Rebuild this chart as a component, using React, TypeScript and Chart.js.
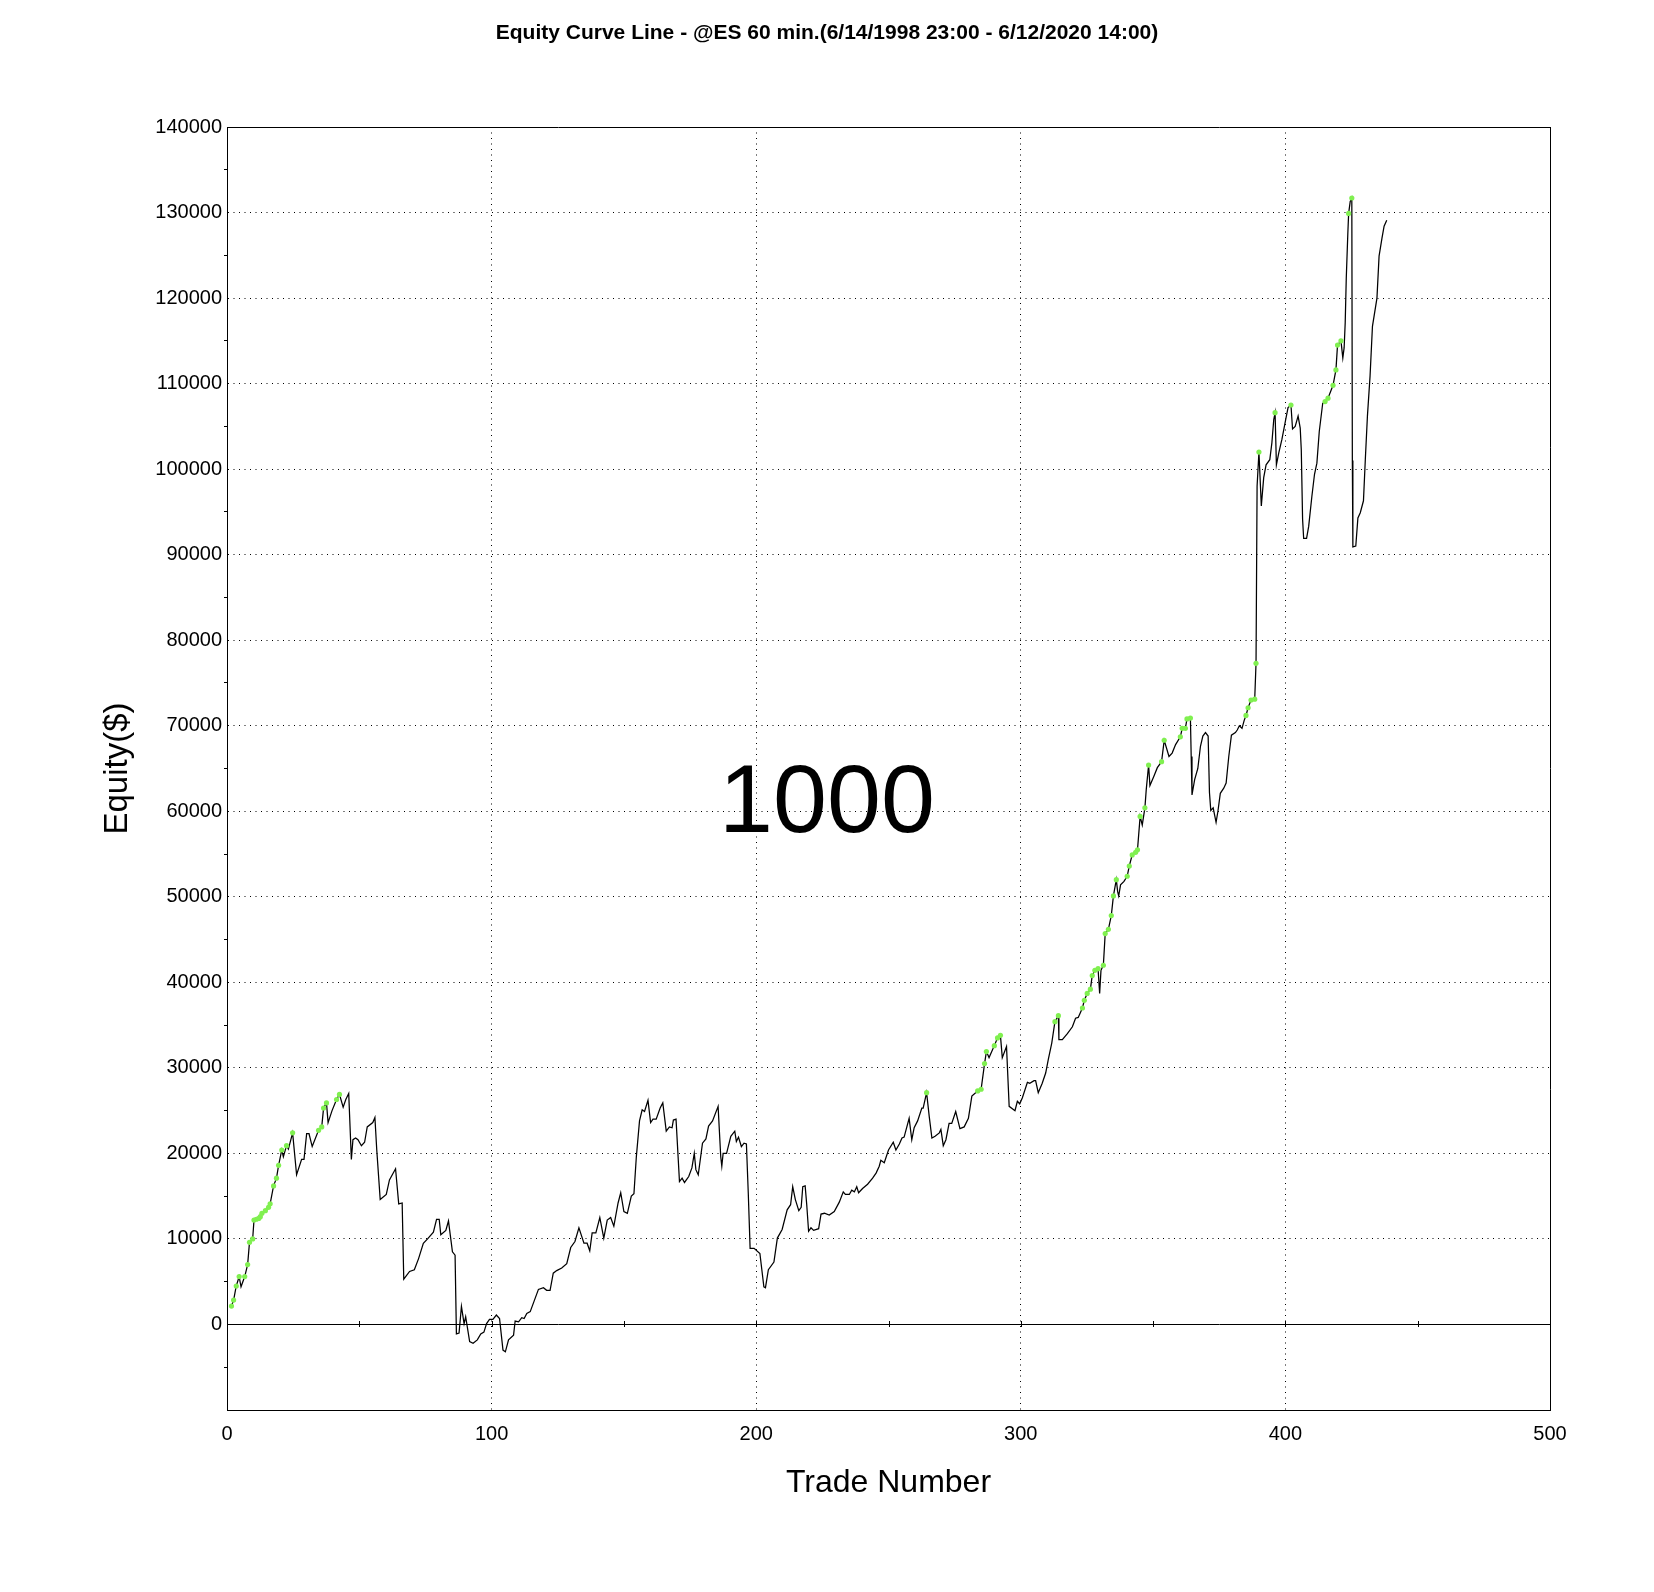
import { useEffect, useRef } from "react";
import { Chart, registerables } from "chart.js";

Chart.register(...registerables);

const FONT = "'Liberation Sans', Arial, Helvetica, sans-serif";

const titleText = "Equity Curve Line - @ES 60 min.(6/14/1998 23:00 - 6/12/2020 14:00)";
const xAxisTitle = "Trade Number";
const yAxisTitle = "Equity($)";
const watermarkText = "1000";

// equity curve vertices (trade number, equity $)
const tradeNumbers = [
  1.7, 2.5, 3.5, 4.6, 5.3, 6.7, 7.8, 8.5, 9.7, 10.2, 11.1, 12.0, 12.6, 13.2, 14.5, 15.7, 16.3, 17.6, 18.7, 19.5,
  20.7, 21.3, 22.5, 23.2, 24.8, 26.3, 28.2, 29.1, 30.1, 31.0, 32.2, 34.6, 35.8, 36.5, 37.6, 38.2, 39.7, 41.4, 42.5, 43.9,
  44.9, 46.0, 47.0, 47.6, 48.6, 49.5, 50.8, 52.0, 53.0, 55.1, 55.9, 56.6, 57.9, 60.2, 61.4, 63.7, 64.9, 66.2, 66.8, 69.0,
  70.8, 72.4, 74.2, 75.8, 78.0, 79.2, 80.2, 80.8, 82.7, 83.7, 85.2, 86.2, 86.7, 87.7, 88.6, 89.6, 90.2, 91.7, 93.0, 94.6,
  95.9, 97.1, 98.1, 99.2, 100.5, 101.8, 103.0, 104.3, 105.2, 106.4, 108.3, 108.9, 110.2, 111.4, 112.3, 113.3, 114.6, 117.7, 119.6, 120.8,
  122.1, 123.3, 124.6, 126.5, 128.4, 129.9, 131.5, 133.0, 134.9, 136.1, 137.1, 138.0, 139.4, 140.9, 142.4, 143.7, 145.0, 146.2, 147.8, 148.8,
  150.0, 151.3, 152.8, 153.8, 154.7, 155.9, 156.9, 157.8, 159.1, 160.1, 161.0, 162.2, 163.7, 164.7, 166.0, 167.2, 168.2, 168.7, 169.7, 171.0,
  172.0, 172.9, 174.5, 175.7, 176.6, 177.2, 178.1, 179.7, 181.0, 182.0, 183.5, 185.6, 186.6, 187.0, 187.5, 188.8, 190.4, 191.9, 192.5, 193.3,
  194.4, 195.4, 196.3, 197.0, 197.7, 199.2, 201.4, 202.9, 203.5, 204.6, 206.7, 208.0, 209.8, 211.7, 213.0, 213.8, 214.8, 216.1, 217.0, 217.6,
  218.5, 219.1, 219.8, 220.7, 221.7, 223.6, 224.5, 225.8, 227.6, 229.5, 231.4, 232.9, 233.7, 235.2, 236.1, 237.1, 238.0, 238.7, 240.2, 242.1,
  244.0, 245.3, 246.5, 247.1, 248.4, 250.0, 251.8, 252.8, 254.1, 255.1, 255.9, 257.8, 258.8, 259.7, 261.0, 262.6, 263.1, 264.4, 265.4, 266.4,
  267.6, 269.2, 269.8, 270.7, 271.7, 272.9, 273.9, 275.4, 277.0, 278.6, 280.2, 281.5, 283.7, 285.0, 286.3, 287.0, 288.0, 290.0, 291.2, 292.3,
  293.0, 294.6, 295.6, 297.8, 298.7, 299.6, 300.6, 302.5, 303.4, 305.0, 305.6, 306.6, 308.1, 309.4, 310.4, 311.7, 312.9, 314.2, 314.4, 315.7,
  317.6, 319.5, 320.7, 321.7, 323.3, 324.0, 325.1, 326.3, 327.0, 328.0, 329.2, 329.8, 330.3, 331.2, 331.9, 333.1, 334.2, 335.0, 336.1, 336.6,
  337.0, 337.7, 339.0, 340.2, 341.0, 342.1, 343.4, 344.1, 345.1, 345.9, 346.9, 347.4, 348.3, 348.8, 350.3, 351.6, 353.2, 354.2, 356.0, 357.2,
  358.5, 360.3, 361.0, 362.2, 362.8, 364.1, 364.4, 364.7, 365.7, 366.9, 367.9, 368.8, 369.8, 370.8, 371.3, 371.8, 372.7, 373.8, 374.5, 375.4,
  376.7, 377.6, 378.6, 379.6, 381.1, 381.8, 382.6, 383.6, 384.4, 385.1, 385.9, 387.0, 388.4, 388.9, 389.3, 390.0, 390.9, 391.8, 392.7, 394.1,
  394.9, 395.6, 396.1, 396.6, 397.5, 398.7, 400.0, 401.0, 402.1, 402.7, 403.7, 404.8, 405.6, 406.0, 406.5, 406.9, 408.0, 408.8, 410.0, 411.0,
  411.9, 412.8, 414.1, 415.0, 416.1, 418.0, 419.1, 419.7, 421.0, 421.7, 422.2, 422.6, 423.0, 423.6, 423.9, 424.5, 425.1, 425.3, 425.5, 426.6,
  427.4, 428.3, 429.5, 430.2, 431.0, 432.0, 432.9, 434.6, 435.4, 436.5, 437.3, 438.3,
];

const equity = [
  2150, 2850, 4500, 5600, 4400, 5600, 7000, 9600, 10000, 12200, 12300, 12400, 12600, 13000, 13300, 13700, 14100, 16200, 17100, 18600,
  20400, 19600, 20900, 20500, 22400, 17500, 19300, 19300, 22300, 22300, 20800, 22700, 23100, 25300, 25900, 23600, 25000, 26300, 26900, 25400,
  26300, 27000, 19300, 21600, 21800, 21600, 20900, 21300, 23100, 23600, 24200, 20400, 14600, 15200, 16900, 18200, 14100, 14200, 5300, 6200,
  6400, 7700, 9500, 10000, 10800, 12300, 12300, 10500, 11000, 12100, 8500, 8100, -1100, -1000, 2100, 100, 900, -2000, -2200, -1800,
  -1100, -900, 100, 600, 600, 1100, 700, -3000, -3200, -1800, -1250, 400, 300, 800, 700, 1300, 1500, 4100, 4300, 4000,
  4000, 6000, 6300, 6600, 7100, 9000, 9700, 11300, 9500, 9500, 8600, 10700, 10700, 12500, 10100, 12200, 12500, 11500, 14200, 15400,
  13200, 13000, 15000, 15300, 19600, 23800, 25100, 24900, 26200, 23600, 24000, 24000, 25300, 25900, 22600, 23100, 23000, 23900, 24000, 16700,
  17100, 16600, 17300, 18300, 20000, 18100, 17500, 21200, 21700, 23200, 23800, 25500, 19600, 18500, 20000, 20000, 22000, 22600, 21400, 21900,
  20800, 21200, 21100, 15400, 8900, 8900, 8300, 4400, 4300, 6400, 7300, 10100, 11100, 13400, 14000, 16100, 14600, 13300, 13700, 16100,
  16200, 14000, 10900, 11300, 11000, 11200, 12900, 13000, 12800, 13200, 14300, 15500, 15200, 15200, 15700, 15500, 16100, 15400, 15900, 16400,
  17100, 17700, 18500, 19200, 18900, 20400, 21300, 20400, 21100, 21800, 21900, 24100, 21600, 23000, 23800, 25300, 25300, 27100, 24300, 21800,
  22000, 22400, 22800, 20900, 21600, 23500, 23500, 24900, 22900, 23100, 24100, 26700, 27300, 27500, 30500, 31900, 31200, 32600, 33500, 33800,
  31200, 32500, 25500, 25000, 26100, 25800, 26500, 28300, 28200, 28500, 28500, 27100, 28200, 29400, 31000, 32900, 35400, 36100, 33300, 33300,
  34000, 34800, 35800, 35900, 37000, 37900, 38700, 39200, 40800, 41400, 41600, 38700, 41400, 42000, 45700, 46200, 47800, 50100, 52000, 50600,
  50100, 51400, 51800, 52400, 53600, 54900, 55200, 55500, 59400, 58400, 60400, 62500, 65400, 63000, 64100, 65100, 65800, 68300, 66400, 66800,
  67800, 68700, 69700, 69700, 70800, 70900, 66400, 61900, 63700, 65000, 67600, 68800, 69200, 68800, 62200, 60100, 60400, 58700, 60000, 62100,
  62700, 63300, 66400, 68900, 69200, 69500, 70000, 69700, 70600, 71200, 72100, 73000, 73100, 77300, 98000, 102000, 95700, 99000, 100500, 101100,
  103100, 105800, 106600, 100500, 101900, 103500, 105600, 107200, 107500, 104700, 105000, 106200, 104800, 102300, 94100, 91900, 91900, 93300, 96800, 99400,
  100700, 104400, 107700, 107900, 108300, 109800, 111600, 114500, 115000, 113000, 114200, 117100, 122300, 127600, 129900, 131300, 131700, 101000, 90900, 91000,
  94300, 94900, 96300, 101100, 106200, 110900, 116700, 120000, 124900, 127000, 128400, 129100,
];

// new equity highs (green markers)
const highTradeNumbers = [
  1.7, 2.5, 3.5, 4.6, 6.7, 7.8, 8.5, 9.7, 10.2, 11.1, 12.0, 12.6, 13.2, 14.5, 15.7, 16.3, 17.6, 18.7, 19.5, 20.7,
  22.5, 24.8, 34.6, 35.8, 36.5, 37.6, 41.4, 42.5, 264.4, 283.7, 285.0, 286.3, 287.0, 290.0, 291.2, 292.3, 312.9, 314.2,
  323.3, 324.0, 325.1, 326.3, 327.0, 328.0, 329.2, 331.2, 331.9, 333.1, 334.2, 335.0, 336.1, 340.2, 341.0, 342.1, 343.4,
  344.1, 345.1, 346.9, 348.3, 353.2, 354.2, 360.3, 361.0, 362.2, 362.8, 364.1, 385.1, 385.9, 387.0, 388.4, 388.9, 390.0,
  396.1, 402.1, 415.0, 416.1, 418.0, 419.1, 419.7, 421.0, 423.9, 425.1,
];

const highEquity = [
  2150, 2850, 4500, 5600, 5600, 7000, 9600, 10000, 12200, 12300, 12400, 12600, 13000, 13300, 13700, 14100, 16200, 17100, 18600, 20400,
  20900, 22400, 22700, 23100, 25300, 25900, 26300, 26900, 27100, 27300, 27500, 30500, 31900, 32600, 33500, 33800, 35400, 36100,
  37000, 37900, 38700, 39200, 40800, 41400, 41600, 42000, 45700, 46200, 47800, 50100, 52000, 52400, 53600, 54900, 55200,
  55500, 59400, 60400, 65400, 65800, 68300, 68700, 69700, 69700, 70800, 70900, 71200, 72100, 73000, 73100, 77300, 102000,
  106600, 107500, 107900, 108300, 109800, 111600, 114500, 115000, 129900, 131700,
];

// small marks on the zero line
const zeroLineTicks = [50, 100, 150, 200, 250, 300, 350, 400, 450];

const isEdgeY = (v: number) => v === 0 || v === -10000 || v === 140000;
const isEdgeX = (v: number) => v === 0 || v === 500;

const decorations = {
  id: "decorations",
  afterDatasetsDraw(chart: any) {
    const { ctx, chartArea, scales } = chart;
    const y0 = Math.round(scales.y.getPixelForValue(0));
    ctx.save();
    ctx.strokeStyle = "#000";
    ctx.lineWidth = 1;
    ctx.beginPath();
    zeroLineTicks.forEach((t) => {
      const px = Math.round(scales.x.getPixelForValue(t)) + 0.5;
      ctx.moveTo(px, y0 - 3);
      ctx.lineTo(px, y0 + 3);
    });
    ctx.stroke();
    ctx.font = `97px ${FONT}`;
    ctx.fillStyle = "#000";
    ctx.textAlign = "center";
    ctx.textBaseline = "middle";
    ctx.fillText(watermarkText, chart.width / 2, chartArea.top + (chartArea.bottom - chartArea.top) * 0.529);
    ctx.restore();
  },
};

export default function App() {
  const canvasRef = useRef<HTMLCanvasElement>(null);
  const chartRef = useRef<Chart | null>(null);

  useEffect(() => {
    if (!canvasRef.current) return;
    chartRef.current?.destroy();

    chartRef.current = new Chart(canvasRef.current, {
      type: "scatter",
      data: {
        datasets: [
          {
            label: "New high",
            data: highTradeNumbers.map((t, i) => ({ x: t, y: highEquity[i] })),
            backgroundColor: "#80f050",
            borderWidth: 0,
            pointRadius: 2.6,
            order: 1,
          },
          {
            label: "Equity",
            data: tradeNumbers.map((t, i) => ({ x: t, y: equity[i] })),
            showLine: true,
            borderColor: "#000",
            borderWidth: 1.25,
            pointRadius: 0,
            tension: 0,
            order: 2,
          },
        ],
      },
      options: {
        animation: false,
        responsive: true,
        maintainAspectRatio: false,
        events: [],
        layout: { padding: { left: 104, right: 104, top: 0, bottom: 0 } },
        plugins: {
          legend: { display: false },
          tooltip: { enabled: false },
          title: {
            display: true,
            text: titleText,
            color: "#000",
            font: { family: FONT, size: 21, weight: "bold" },
            padding: { top: 20.4, bottom: 81.4 },
          },
        },
        scales: {
          x: {
            type: "linear",
            min: 0,
            max: 500,
            afterFit: (s: any) => { s.height = 182; },
            ticks: { stepSize: 100, color: "#000", font: { family: FONT, size: 20 }, padding: 12, maxRotation: 0 },
            grid: { drawTicks: false, color: "#000", lineWidth: 1 },
            border: {
              display: true,
              color: "#000",
              width: 1,
              dash: (c: any) => (c.tick && !isEdgeX(c.tick.value) ? [1, 4.5] : []),
            },
            title: {
              display: true,
              text: xAxisTitle,
              color: "#000",
              font: { family: FONT, size: 32 },
              padding: { top: 0, bottom: 90 },
            },
          },
          y: {
            type: "linear",
            min: -10000,
            max: 140000,
            afterFit: (s: any) => { s.width = 123; },
            ticks: {
              stepSize: 5000,
              maxTicksLimit: 100,
              autoSkip: false,
              color: "#000",
              font: { family: FONT, size: 20 },
              padding: 2,
              callback: (v: any) => (Number(v) >= 0 && Number(v) % 10000 === 0 ? String(v) : ""),
            },
            grid: {
              lineWidth: 1,
              drawTicks: true,
              tickLength: 3,
              color: (c: any) => (c.tick && c.tick.value % 10000 === 0 ? "#000" : "rgba(0,0,0,0)"),
              tickColor: (c: any) => (c.tick && c.tick.value % 10000 === 0 ? "rgba(0,0,0,0)" : "#000"),
            },
            border: {
              display: true,
              color: "#000",
              width: 1,
              dash: (c: any) => (c.tick && !isEdgeY(c.tick.value) ? [1, 4.5] : []),
            },
            title: {
              display: true,
              text: yAxisTitle,
              color: "#000",
              font: { family: FONT, size: 33, lineHeight: 0.82 },
              padding: { top: 0, bottom: 0 },
            },
          },
        },
      },
      plugins: [decorations],
    });

    return () => { chartRef.current?.destroy(); };
  }, []);

  return (
    <div style={{ position: "fixed", left: 0, top: 0, width: "1654px", height: "1592px", background: "#fff" }}>
      <canvas ref={canvasRef} />
    </div>
  );
}
